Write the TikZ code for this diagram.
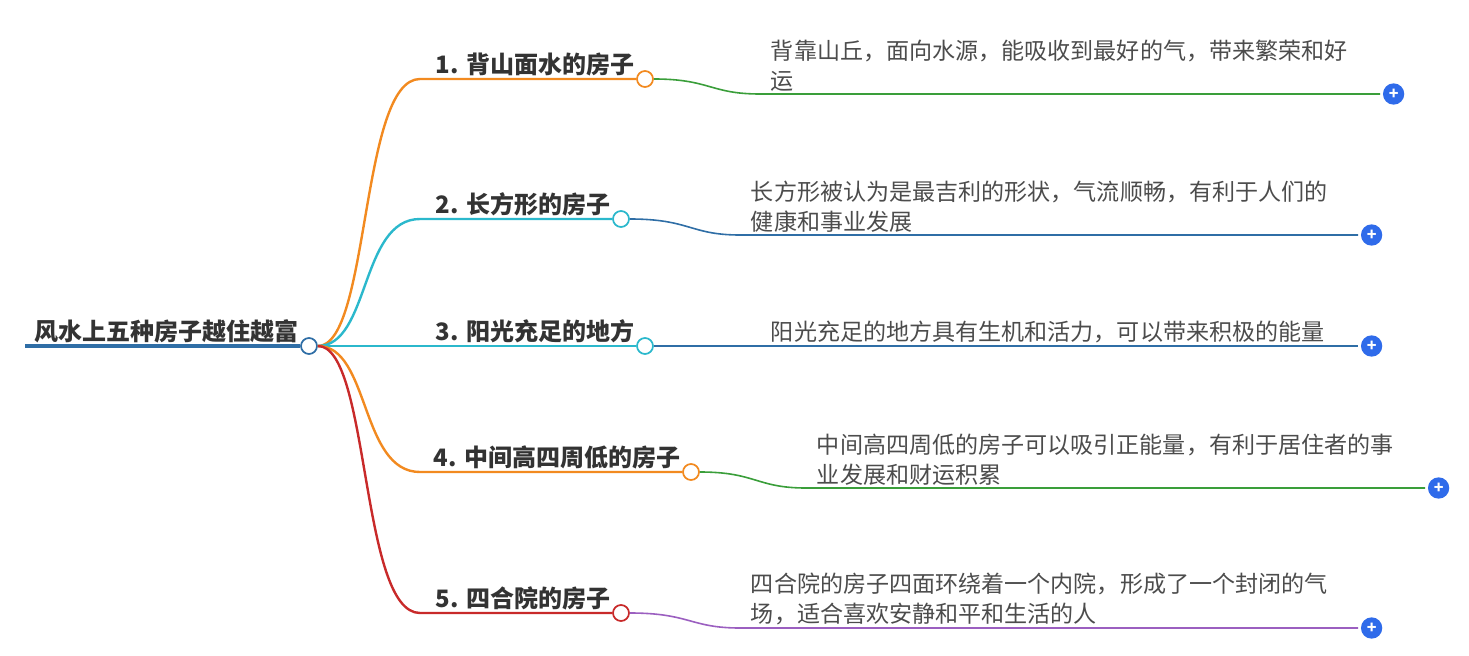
\documentclass[tikz,border=0pt]{standalone}
\usepackage{fontspec}
\setmainfont{Noto Sans CJK SC}
\definecolor{corange}{HTML}{F28A20}
\definecolor{ccyan}{HTML}{2BB8CC}
\definecolor{cred}{HTML}{C82A2A}
\definecolor{cgreen}{HTML}{3A9E3A}
\definecolor{cblue}{HTML}{2F6EA6}
\definecolor{cpurple}{HTML}{9B5FC0}
\definecolor{cplus}{HTML}{2F6BEA}
\definecolor{ctext}{HTML}{333333}
\tikzset{
	x = 0.75pt, y = -0.75pt,
	knob/.style = {draw, circle, fill = white, line width = 1.3pt, minimum size = 12pt, inner sep = 0pt},
	plus/.style = {circle, fill = cplus, text = white, minimum size = 16pt, inner sep = 0pt, font = \bfseries\large},
	title/.style = {font = \fontsize{18}{21}\selectfont\bfseries, text = ctext, anchor = south east, inner sep = 2pt},
	detail/.style = {font = \fontsize{17.3}{22.5}\selectfont, text = black!70, anchor = south west, align = left, inner sep = 2pt},
	limb/.style = {line width = 1.8pt},
	twig/.style = {line width = 1.2pt}
}
\begin{document}
\begin{tikzpicture}
	\useasboundingbox (0,0) rectangle (1469,656);
	% root
	\coordinate (r0) at (25,346);
	\node[knob, draw = cblue] (root) at (309,346) {};
	\draw[cblue, line width = 3pt] (r0) -- (root);
	\node[title, anchor = south west] at (32,346) {风水上五种房子越住越富};
	% branches
	\foreach \i/\y/\dy/\cx/\col/\dcol/\dx/\ex/\lab/\txt in {
		1/79/15/645/corange/cgreen/760/1380/{1. 背山面水的房子}/{背靠山丘，面向水源，能吸收到最好的气，带来繁荣和好\\运},
		2/219/16/621/ccyan/cblue/740/1358/{2. 长方形的房子}/{长方形被认为是最吉利的形状，气流顺畅，有利于人们的\\健康和事业发展},
		3/346/0/645/ccyan/cblue/760/1358/{3. 阳光充足的地方}/{阳光充足的地方具有生机和活力，可以带来积极的能量},
		4/472/16/691/corange/cgreen/806/1425/{4. 中间高四周低的房子}/{中间高四周低的房子可以吸引正能量，有利于居住者的事\\业发展和财运积累},
		5/613/15/621/cred/cpurple/740/1358/{5. 四合院的房子}/{四合院的房子四面环绕着一个内院，形成了一个封闭的气\\场，适合喜欢安静和平和生活的人}} {
		\coordinate (b\i) at (420,\y);
		\node[knob, draw = \col] (c\i) at (\cx,\y) {};
		\draw[limb, \col] (root.east) .. controls (370,346) and (360,\y) .. (b\i) -- (c\i);
		\node[title] at ([xshift=-6pt]c\i.center) {\lab};
		\coordinate (d\i) at (\dx,\y+\dy);
		\coordinate (e\i) at (\ex,\y+\dy);
		\draw[twig, \dcol] (c\i.east) .. controls (\dx-50,\y) and (\dx-50,\y+\dy) .. (d\i) -- (e\i);
		\node[detail] at ([xshift=6pt]d\i) {\txt};
		\node[plus, anchor = west] (p\i) at ([xshift=2pt]e\i) {+};
	}
\end{tikzpicture}
\end{document}
